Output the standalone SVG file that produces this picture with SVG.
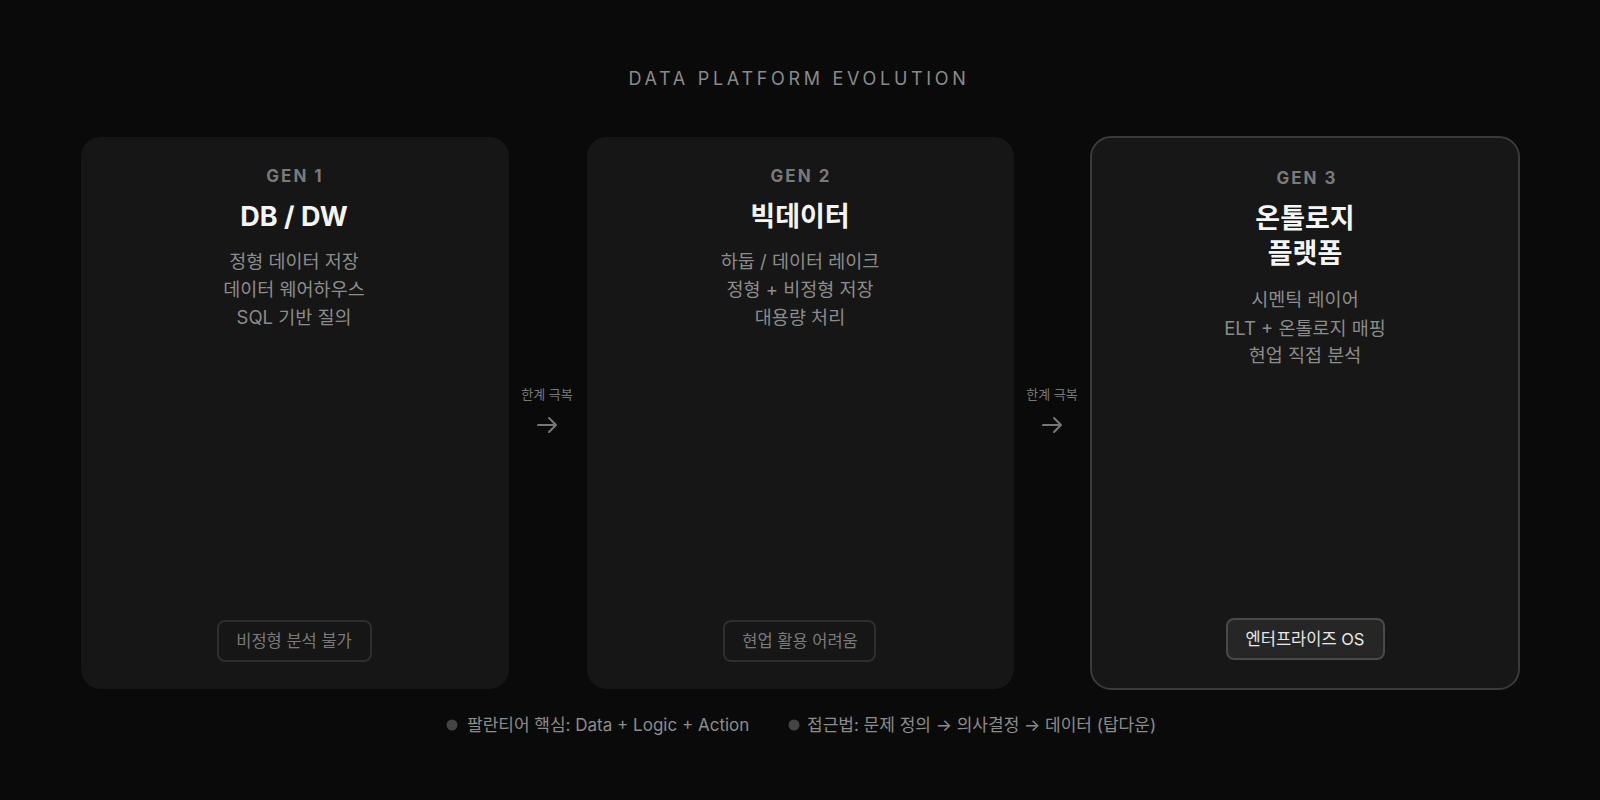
<svg xmlns="http://www.w3.org/2000/svg" width="1600" height="800" viewBox="0 0 1600 800">
<style>
text{font-family:Inter,"Noto Sans","Noto Sans CJK KR",sans-serif;text-anchor:middle}
.card{fill:#161616}
.card3{fill:#171717;stroke:#3a3a3a;stroke-width:2}
.gen{font-size:17px;font-weight:700;fill:#7a7a7a;letter-spacing:2px}
.ttl{font-size:27px;font-weight:700;fill:#f5f5f5}
.desc{font-size:18.5px;fill:#8c8c8c}
.badge{fill:none;stroke:#2e2e2e;stroke-width:2}
.badge3{fill:#262626;stroke:#4a4a4a;stroke-width:2}
.btxt{font-size:16.5px;fill:#7a7a7a}
.btxt3{font-size:16.5px;fill:#e8e8e8}
.alab{font-size:13px;fill:#777}
.arr{stroke:#777;stroke-width:2;fill:none;stroke-linecap:round;stroke-linejoin:round}
.foot{font-size:17px;fill:#8c8c8c;text-anchor:start}
</style>
<rect width="1600" height="800" fill="#0a0a0a"/>
<text x="799" y="85" font-size="18" fill="#8a8a8a" letter-spacing="3.7">DATA PLATFORM EVOLUTION</text>
<g id="gen1">
<rect class="card" x="81" y="137" width="428" height="552" rx="20"/>
<text class="gen" x="295" y="182">GEN 1</text>
<text class="ttl" x="294" y="226">DB / DW</text>
<text class="desc" x="294" y="267.5">정형 데이터 저장</text>
<text class="desc" x="294" y="296">데이터 웨어하우스</text>
<text class="desc" x="294" y="324">SQL 기반 질의</text>
<rect class="badge" x="218" y="621" width="153" height="40" rx="7"/>
<text class="btxt" x="294" y="647">비정형 분석 불가</text>
</g>
<g id="gen2">
<rect class="card" x="587" y="137" width="427" height="552" rx="20"/>
<text class="gen" x="801" y="182">GEN 2</text>
<text class="ttl" x="800" y="226">빅데이터</text>
<text class="desc" x="800" y="267.5">하둡 / 데이터 레이크</text>
<text class="desc" x="800" y="296">정형 + 비정형 저장</text>
<text class="desc" x="800" y="324">대용량 처리</text>
<rect class="badge" x="724" y="621" width="151" height="40" rx="7"/>
<text class="btxt" x="800" y="647">현업 활용 어려움</text>
</g>
<g id="gen3">
<rect class="card3" x="1091" y="137" width="428" height="552" rx="20"/>
<text class="gen" x="1307" y="184">GEN 3</text>
<text class="ttl" x="1305" y="228">온톨로지</text>
<text class="ttl" x="1305" y="263">플랫폼</text>
<text class="desc" x="1305" y="306">시멘틱 레이어</text>
<text class="desc" x="1305" y="334.5">ELT + 온톨로지 매핑</text>
<text class="desc" x="1305" y="362">현업 직접 분석</text>
<rect class="badge3" x="1227" y="619" width="157" height="40" rx="7"/>
<text class="btxt3" x="1305" y="645">엔터프라이즈 OS</text>
</g>
<g id="connectors">
<text class="alab" x="547" y="399">한계 극복</text>
<path class="arr" d="M538 425H556M549 418L556 425L549 432"/>
<text class="alab" x="1052" y="399">한계 극복</text>
<path class="arr" d="M1043 425H1061M1054 418L1061 425L1054 432"/>
</g>
<g id="footer">
<circle cx="452" cy="725" r="5.5" fill="#444"/>
<text class="foot" x="467" y="731">팔란티어 핵심: Data + Logic + Action</text>
<circle cx="794" cy="725" r="5.5" fill="#444"/>
<text class="foot" x="807" y="731">접근법: 문제 정의 → 의사결정 → 데이터 (탑다운)</text>
</g>
</svg>
